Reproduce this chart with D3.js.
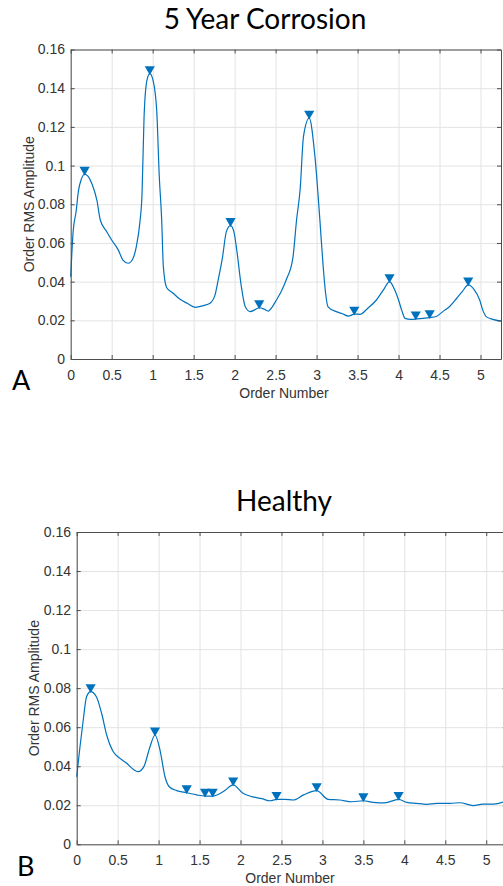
<!DOCTYPE html>
<html>
<head>
<meta charset="utf-8">
<script src="https://cdn.jsdelivr.net/npm/d3@7"></script>
<style>
  body { margin: 0; background: #fff; }
  svg { display: block; }
</style>
</head>
<body>
<div id="chart"></div>
<script>
// tick values shared by both panels
const orderTicks = [0, 0.5, 1, 1.5, 2, 2.5, 3, 3.5, 4, 4.5, 5];
const ampTicks = [0, 0.02, 0.04, 0.06, 0.08, 0.1, 0.12, 0.14, 0.16];

// 5 year corrosion spectrum
const corrOrder = [0, 0.03, 0.065, 0.095, 0.13, 0.17, 0.21, 0.26, 0.32, 0.36, 0.44, 0.50, 0.58, 0.64, 0.70, 0.76, 0.80, 0.845, 0.87, 0.895, 0.93, 0.965, 1.005, 1.05, 1.08, 1.11, 1.13, 1.17, 1.25, 1.33, 1.42, 1.52, 1.62, 1.70, 1.76, 1.80, 1.85, 1.90, 1.95, 1.99, 2.03, 2.08, 2.13, 2.19, 2.25, 2.30, 2.36, 2.41, 2.46, 2.51, 2.57, 2.63, 2.71, 2.756, 2.80, 2.84, 2.91, 2.98, 3.04, 3.08, 3.11, 3.14, 3.24, 3.31, 3.39, 3.46, 3.53, 3.62, 3.73, 3.82, 3.89, 3.95, 4.00, 4.04, 4.08, 4.15, 4.22, 4.30, 4.38, 4.46, 4.54, 4.62, 4.71, 4.78, 4.85, 4.92, 4.99, 5.03, 5.07, 5.15, 5.25];
const corrAmp = [0.0425, 0.066, 0.076, 0.087, 0.093, 0.0955, 0.0945, 0.0905, 0.082, 0.072, 0.0658, 0.0615, 0.0564, 0.051, 0.0495, 0.052, 0.058, 0.071, 0.085, 0.125, 0.144, 0.1475, 0.144, 0.128, 0.095, 0.072, 0.048, 0.037, 0.034, 0.031, 0.0288, 0.0267, 0.0276, 0.0288, 0.033, 0.041, 0.052, 0.066, 0.069, 0.066, 0.055, 0.038, 0.027, 0.0245, 0.0255, 0.0265, 0.0258, 0.0248, 0.027, 0.0305, 0.035, 0.041, 0.052, 0.072, 0.088, 0.115, 0.1245, 0.1046, 0.072, 0.048, 0.034, 0.027, 0.0245, 0.0235, 0.0222, 0.0232, 0.0231, 0.026, 0.0305, 0.036, 0.040, 0.036, 0.0305, 0.025, 0.021, 0.0205, 0.0207, 0.021, 0.0214, 0.022, 0.0245, 0.027, 0.0314, 0.035, 0.0383, 0.036, 0.0305, 0.025, 0.0219, 0.0205, 0.0196];
const corrPeakOrder = [0.17, 0.965, 1.95, 2.30, 2.91, 3.46, 3.89, 4.21, 4.38, 4.85];
const corrPeakAmp = [0.0955, 0.1475, 0.069, 0.0265, 0.1245, 0.0232, 0.040, 0.0207, 0.0214, 0.0383];

// healthy spectrum
const healthyOrder = [0, 0.04, 0.08, 0.12, 0.17, 0.24, 0.305, 0.366, 0.447, 0.529, 0.61, 0.69, 0.75, 0.82, 0.895, 0.956, 1.017, 1.078, 1.13, 1.22, 1.343, 1.465, 1.567, 1.66, 1.79, 1.91, 2.03, 2.14, 2.26, 2.36, 2.44, 2.54, 2.645, 2.77, 2.93, 3.07, 3.21, 3.36, 3.50, 3.62, 3.76, 3.93, 4.03, 4.15, 4.27, 4.40, 4.56, 4.68, 4.84, 4.96, 5.09, 5.25];
const healthyAmp = [0.0346, 0.050, 0.0637, 0.0756, 0.0782, 0.0756, 0.067, 0.056, 0.0474, 0.044, 0.0415, 0.0384, 0.0372, 0.0398, 0.050, 0.056, 0.0483, 0.0346, 0.0295, 0.0275, 0.0264, 0.0253, 0.0247, 0.0247, 0.027, 0.0304, 0.0261, 0.0244, 0.0234, 0.0223, 0.023, 0.023, 0.0227, 0.0253, 0.0275, 0.023, 0.0227, 0.0218, 0.0223, 0.0215, 0.0212, 0.023, 0.0215, 0.021, 0.0205, 0.021, 0.021, 0.0213, 0.0198, 0.0206, 0.0206, 0.0222];
const healthyPeakOrder = [0.17, 0.956, 1.343, 1.567, 1.66, 1.91, 2.44, 2.93, 3.50, 3.93];
const healthyPeakAmp = [0.0782, 0.056, 0.0264, 0.0247, 0.0247, 0.0304, 0.023, 0.0275, 0.0223, 0.023];

const width = 503;
const height = 886;
const blue = '#0072BD';
const axisColor = '#4d4d4d';
const textColor = '#333';
const tickFont = '"Liberation Sans", Arial, sans-serif';
const titleFont = 'Lato, "Open Sans", sans-serif';

const svg = d3.select('#chart')
  .append('svg')
  .attr('width', width)
  .attr('height', height);

function panel(cfg) {
  const x = d3.scaleLinear().domain([0, 5.25]).range([cfg.left, cfg.right]);
  const y = d3.scaleLinear().domain([0, 0.16]).range([cfg.bottom, cfg.top]);
  const g = svg.append('g');
  const h = cfg.bottom - cfg.top;
  const w = cfg.right - cfg.left;

  // grid
  g.append('g')
    .attr('transform', `translate(0,${cfg.bottom})`)
    .call(d3.axisBottom(x).tickValues(orderTicks).tickSize(-h).tickFormat(''))
    .call(s => s.select('.domain').remove())
    .selectAll('line').attr('stroke', '#e3e3e3');
  g.append('g')
    .attr('transform', `translate(${cfg.left},0)`)
    .call(d3.axisLeft(y).tickValues(ampTicks).tickSize(-w).tickFormat(''))
    .call(s => s.select('.domain').remove())
    .selectAll('line').attr('stroke', '#e3e3e3');

  // spectrum line
  const pts = cfg.order.map((o, i) => [o, cfg.amp[i]]);
  g.append('path')
    .datum(pts)
    .attr('fill', 'none')
    .attr('stroke', blue)
    .attr('stroke-width', 1.2)
    .attr('d', d3.line().x(d => x(d[0])).y(d => y(d[1])).curve(d3.curveMonotoneX));

  // peak markers (downward triangles sitting just above each peak)
  const tri = d3.symbol(d3.symbolTriangle, 45);
  g.append('g')
    .selectAll('path')
    .data(cfg.peakOrder.map((o, i) => [o, cfg.peakAmp[i]]))
    .join('path')
    .attr('d', tri)
    .attr('fill', blue)
    .attr('transform', d => `translate(${x(d[0])},${y(d[1]) - 4.5}) rotate(180)`);

  // axes box, ticks inward
  const styleAxis = s => {
    s.select('.domain').attr('stroke', axisColor);
    s.selectAll('.tick line').attr('stroke', axisColor);
    s.selectAll('text').attr('fill', textColor).style('font-family', tickFont).style('font-size', '14px');
  };
  g.append('g')
    .attr('transform', `translate(0,${cfg.bottom})`)
    .call(d3.axisBottom(x).tickValues(orderTicks).tickSizeInner(-4).tickSizeOuter(0).tickPadding(11).tickFormat(d3.format('~g')))
    .call(styleAxis);
  g.append('g')
    .attr('transform', `translate(${cfg.left},0)`)
    .call(d3.axisLeft(y).tickValues(ampTicks).tickSizeInner(-4).tickSizeOuter(0).tickPadding(5.7).tickFormat(d3.format('~g')))
    .call(styleAxis);
  g.append('g')
    .attr('transform', `translate(0,${cfg.top})`)
    .call(d3.axisTop(x).tickValues(orderTicks).tickSizeInner(-4).tickSizeOuter(0).tickFormat(''))
    .call(styleAxis);
  g.append('g')
    .attr('transform', `translate(${cfg.right},0)`)
    .call(d3.axisRight(y).tickValues(ampTicks).tickSizeInner(-4).tickSizeOuter(0).tickFormat(''))
    .call(styleAxis);

  // labels
  g.append('text')
    .attr('x', cfg.xLabelX).attr('y', cfg.xLabelY)
    .attr('text-anchor', 'middle')
    .attr('fill', textColor)
    .style('font-family', tickFont).style('font-size', '14px')
    .text('Order Number');
  g.append('text')
    .attr('transform', `translate(${cfg.yLabelX},${(cfg.top + cfg.bottom) / 2}) rotate(-90)`)
    .attr('text-anchor', 'middle')
    .attr('fill', textColor)
    .style('font-family', tickFont).style('font-size', '14px')
    .text('Order RMS Amplitude');
  g.append('text')
    .attr('x', cfg.titleX).attr('y', cfg.titleY)
    .attr('text-anchor', 'middle')
    .attr('fill', '#000')
    .style('font-family', titleFont).style('font-size', '28px')
    .text(cfg.title);
  g.append('text')
    .attr('x', cfg.letterX).attr('y', cfg.letterY)
    .attr('fill', '#000')
    .style('font-family', titleFont).style('font-size', '27px')
    .text(cfg.letter);
}

panel({
  left: 70.7, right: 501, top: 49.5, bottom: 359,
  order: corrOrder, amp: corrAmp, peakOrder: corrPeakOrder, peakAmp: corrPeakAmp,
  title: '5 Year Corrosion', titleX: 265, titleY: 28.5,
  letter: 'A', letterX: 12, letterY: 390,
  xLabelX: 284, xLabelY: 398, yLabelX: 33.5
});

panel({
  left: 76.7, right: 506.7, top: 532, bottom: 844.3,
  order: healthyOrder, amp: healthyAmp, peakOrder: healthyPeakOrder, peakAmp: healthyPeakAmp,
  title: 'Healthy', titleX: 284, titleY: 511,
  letter: 'B', letterX: 17, letterY: 876,
  xLabelX: 290, xLabelY: 883, yLabelX: 38.5
});
</script>
</body>
</html>
